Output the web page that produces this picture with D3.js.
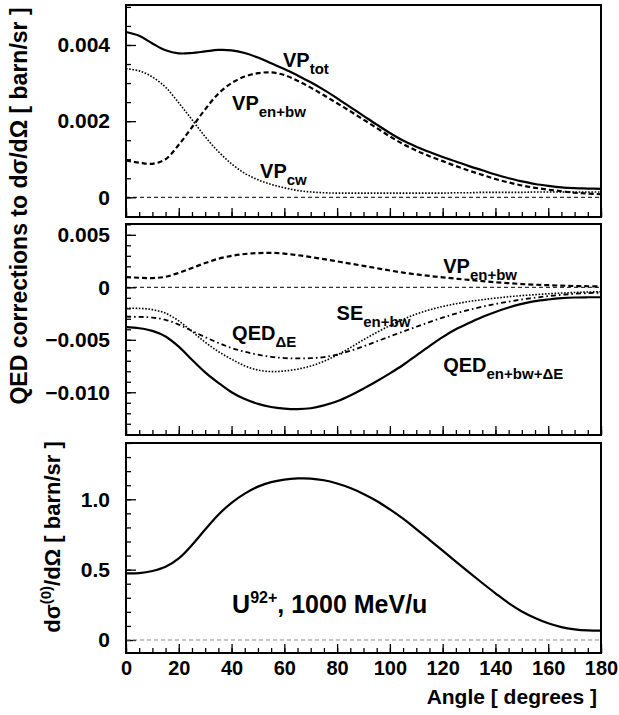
<!DOCTYPE html>
<html><head><meta charset="utf-8">
<script src="https://cdn.jsdelivr.net/npm/d3@7"></script>
<style>
body{margin:0;background:#fff}
svg{display:block}
text{font-family:"Liberation Sans",Arial,Helvetica,sans-serif;font-weight:bold;fill:#000}
</style>
</head><body><svg id="c" width="619" height="715"></svg>
<script>
// ---------------- data ----------------
const angles = [0,5,10,15,20,25,30,35,40,45,50,55,60,65,70,75,80,85,90,95,100,105,110,115,120,125,130,135,140,145,150,155,160,165,170,175,180];

// top panel: vacuum polarization corrections [barn/sr]
const vpTot = [0.00434,0.00424,0.00404,0.00386,0.00378,0.00379,0.00383,0.00387,0.00386,0.00379,0.00367,0.00352,0.00337,0.00320,0.00302,0.00282,0.00260,0.00237,0.00214,0.00191,0.00169,0.00149,0.00133,0.00119,0.00106,0.00094,0.00082,0.00071,0.00060,0.00050,0.00042,0.00035,0.00030,0.00026,0.00024,0.00023,0.00022];
const vpEnBw = [0.00097,0.00091,0.00088,0.00100,0.00138,0.00184,0.00231,0.00272,0.00300,0.00317,0.00326,0.00328,0.00321,0.00306,0.00288,0.00268,0.00247,0.00226,0.00204,0.00182,0.00160,0.00140,0.00123,0.00108,0.00095,0.00082,0.00070,0.00059,0.00048,0.00039,0.00031,0.00025,0.00020,0.00016,0.00012,0.00010,0.00008];
const vpCw = [0.00338,0.00332,0.00316,0.00289,0.00248,0.00204,0.00159,0.00120,0.00088,0.00063,0.00046,0.00034,0.00025,0.00018,0.00014,0.00012,0.00011,0.00011,0.00011,0.00011,0.00011,0.00011,0.00011,0.00011,0.00011,0.00012,0.00012,0.00013,0.00013,0.00013,0.00013,0.00014,0.00014,0.00014,0.00014,0.00014,0.00014];

// middle panel
const seEnBw = [-0.00200,-0.00201,-0.00213,-0.00247,-0.00320,-0.00420,-0.00523,-0.00612,-0.00685,-0.00748,-0.00788,-0.00803,-0.00797,-0.00780,-0.00750,-0.00705,-0.00645,-0.00575,-0.00500,-0.00430,-0.00365,-0.00305,-0.00255,-0.00215,-0.00183,-0.00157,-0.00135,-0.00118,-0.00103,-0.00090,-0.00079,-0.00070,-0.00062,-0.00055,-0.00049,-0.00045,-0.00042];
const qedDeltaE = [-0.00280,-0.00282,-0.00288,-0.00310,-0.00355,-0.00415,-0.00475,-0.00530,-0.00578,-0.00614,-0.00642,-0.00662,-0.00674,-0.00678,-0.00675,-0.00665,-0.00642,-0.00605,-0.00562,-0.00515,-0.00468,-0.00422,-0.00376,-0.00331,-0.00289,-0.00250,-0.00215,-0.00185,-0.00159,-0.00136,-0.00116,-0.00099,-0.00084,-0.00072,-0.00062,-0.00056,-0.00051];
const qedTotal = [-0.00380,-0.00390,-0.00415,-0.00468,-0.00565,-0.00690,-0.00810,-0.00910,-0.01000,-0.01065,-0.01110,-0.01140,-0.01155,-0.01160,-0.01152,-0.01125,-0.01085,-0.01030,-0.00965,-0.00895,-0.00820,-0.00740,-0.00650,-0.00560,-0.00475,-0.00400,-0.00340,-0.00283,-0.00235,-0.00193,-0.00158,-0.00132,-0.00116,-0.00104,-0.00097,-0.00095,-0.00095];

// bottom panel: leading order cross section [barn/sr]
const sigma0 = [0.473,0.475,0.490,0.520,0.580,0.675,0.785,0.890,0.975,1.040,1.090,1.122,1.140,1.148,1.147,1.135,1.112,1.080,1.038,0.988,0.928,0.862,0.788,0.712,0.635,0.557,0.480,0.405,0.332,0.262,0.203,0.157,0.119,0.092,0.076,0.068,0.066];

const xTicks = [0,20,40,60,80,100,120,140,160,180];
const xTickLabels = ["0","20","40","60","80","100","120","140","160","180"];
const yTicksTop = [0,0.002,0.004];
const yLabelsTop = ["0","0.002","0.004"];
const yTicksMid = [0.005,0,-0.005,-0.010];
const yLabelsMid = ["0.005","0","\u22120.005","\u22120.010"];
const yTicksBot = [0,0.5,1.0];
const yLabelsBot = ["0","0.5","1.0"];

// ---------------- layout ----------------
const svg = d3.select("#c");
const L = 126, R = 601;
const x = d3.scaleLinear().domain([0,180]).range([L,R]);
const xMinor = d3.range(0,181,5);

const panels = [
  {top:5,   bottom:217, domain:[-0.000517,0.00505], major:yTicksTop, labels:yLabelsTop, minorStep:0.0005},
  {top:224, bottom:435, domain:[-0.01407,0.00603], major:yTicksMid, labels:yLabelsMid, minorStep:0.001},
  {top:443, bottom:653, domain:[-0.0924,1.40],     major:yTicksBot, labels:yLabelsBot, minorStep:0.1}
];

function styleAxis(g, size){
  g.select(".domain").remove();
  g.selectAll("line").attr("stroke","#000").attr("stroke-width",1.3);
  g.selectAll("text").attr("font-size",size).attr("font-family",'"Liberation Sans",Arial,sans-serif').attr("font-weight","bold").attr("fill","#000");
}

panels.forEach((p,i)=>{
  const y = d3.scaleLinear().domain(p.domain).range([p.bottom,p.top]);
  p.y = y;
  const g = svg.append("g");
  const minors = [];
  const s = p.minorStep;
  for(let v=Math.ceil(p.domain[0]/s)*s; v<=p.domain[1]+1e-12; v+=s){ minors.push(+v.toFixed(6)); }
  g.append("g").attr("transform",`translate(${L},0)`)
    .call(d3.axisLeft(y).tickValues(minors).tickSize(-5).tickFormat(""))
    .call(a=>styleAxis(a,21));
  g.append("g").attr("transform",`translate(${L},0)`)
    .call(d3.axisLeft(y).tickValues(p.major).tickSize(-10).tickPadding(16).tickFormat((d,k)=>p.labels[k]))
    .call(a=>styleAxis(a,21));
  g.append("g").attr("transform",`translate(0,${p.bottom})`)
    .call(d3.axisBottom(x).tickValues(xMinor).tickSize(-5).tickFormat(""))
    .call(a=>styleAxis(a,20));
  g.append("g").attr("transform",`translate(0,${p.bottom})`)
    .call(d3.axisBottom(x).tickValues(xTicks).tickSize(-9).tickPadding(8).tickFormat((d,k)=> i===2 ? xTickLabels[k] : ""))
    .call(a=>styleAxis(a,20));
  // zero line
  g.append("line").attr("x1",x(0)).attr("x2",x(180)).attr("y1",y(0)).attr("y2",y(0))
    .attr("stroke", i===2 ? "#888" : "#000").attr("stroke-width",1).attr("stroke-dasharray","4,3");
  // frame
  g.append("rect").attr("x",L).attr("y",p.top).attr("width",R-L).attr("height",p.bottom-p.top)
    .attr("fill","none").attr("stroke","#000").attr("stroke-width",2);
});

function curve(p, vals, style){
  const line = d3.line().x((d,k)=>x(angles[k])).y(d=>p.y(d)).curve(d3.curveCatmullRom.alpha(0.5));
  const path = svg.append("path").datum(vals).attr("d",line).attr("fill","none")
    .attr("stroke","#000").attr("stroke-width",style.w).attr("stroke-linejoin","round");
  if(style.dash) path.attr("stroke-dasharray",style.dash);
  return path;
}
const SOLID = {w:2.2}, DASH = {w:2.2, dash:"5,3"}, DOT = {w:1.6, dash:"1.6,1.6"}, DASHDOT = {w:1.8, dash:"5,3,1.6,3"};

const [P1,P2,P3] = panels;
curve(P1, vpTot, SOLID);
curve(P1, vpEnBw, DASH);
curve(P1, vpCw, DOT);
curve(P2, vpEnBw, DASH);
curve(P2, seEnBw, DOT);
curve(P2, qedDeltaE, DASHDOT);
curve(P2, qedTotal, SOLID);
curve(P3, sigma0, SOLID);

function label(p, ang, val, main, sub, opts={}){
  const t = svg.append("text").attr("x",x(ang)).attr("y",p.y(val)).attr("font-size",opts.size||20);
  t.append("tspan").text(main);
  if(sub) t.append("tspan").attr("font-size",opts.subSize||15).attr("dy",opts.subDy||7).text(sub);
  return t;
}
label(P1, 59.5, 0.00341, "VP", "tot");
label(P1, 40.2, 0.00228, "VP", "en+bw");
label(P1, 50.8, 0.00050, "VP", "cw");
label(P2, 120.2, 0.00133, "VP", "en+bw");
label(P2, 79.8, -0.00311, "SE", "en+bw");
label(P2, 40.2, -0.00502, "QED", "\u0394E");
label(P2, 120.2, -0.00804, "QED", "en+bw+\u0394E");

// bottom panel annotation
{
  const t = svg.append("text").attr("x",x(40.2)).attr("y",P3.y(0.192)).attr("font-size",25);
  t.append("tspan").text("U");
  t.append("tspan").attr("font-size",16).attr("dy",-10).text("92+");
  t.append("tspan").attr("dy",10).text(", 1000 MeV/u");
}

// axis titles
svg.append("text").attr("transform","translate(27,206) rotate(-90)").attr("text-anchor","middle")
  .attr("font-size",23).text("QED corrections to d\u03c3/d\u03a9 [ barn/sr ]");
{
  const t = svg.append("text").attr("transform","translate(60,537) rotate(-90)").attr("text-anchor","middle").attr("font-size",22);
  t.append("tspan").text("d\u03c3");
  t.append("tspan").attr("font-size",15).attr("dy",-9).text("(0)");
  t.append("tspan").attr("dy",9).text("/d\u03a9 [ barn/sr ]");
}
svg.append("text").attr("x",597).attr("y",704).attr("text-anchor","end").attr("font-size",21).text("Angle [ degrees ]");
</script>
</body></html>
